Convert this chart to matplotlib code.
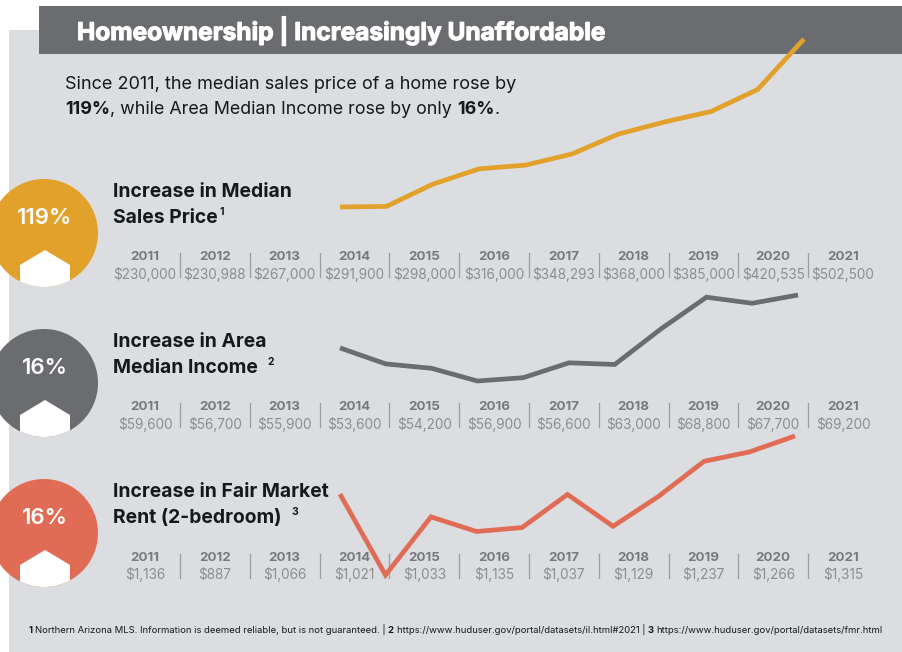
import numpy as np
import matplotlib
matplotlib.use("Agg")
import matplotlib.pyplot as plt
import matplotlib.patheffects as pe
from matplotlib.patches import Circle, Polygon, Rectangle

W, H = 902, 652
FONT = "Inter"

years = [2011, 2012, 2013, 2014, 2015, 2016, 2017, 2018, 2019, 2020, 2021]

price = [230000, 230988, 267000, 291900, 298000, 316000, 348293, 368000, 385000, 420535, 502500]
income = [59600, 56700, 55900, 53600, 54200, 56900, 56600, 63000, 68800, 67700, 69200]
rent = [1136, 887, 1066, 1021, 1033, 1135, 1037, 1129, 1237, 1266, 1315]

GOLD = "#e2a12a"
SLATE = "#6a6c6f"
CORAL = "#e06c55"
PANEL = "#dbdde0"
INK = "#17181a"

plt.rcParams["font.family"] = [FONT, "DejaVu Sans"]
fig = plt.figure(figsize=(W / 100, H / 100), dpi=100, facecolor="white")

# full figure axes in pixels, y going down
bg = fig.add_axes([0, 0, 1, 1])
bg.set_xlim(0, W)
bg.set_ylim(H, 0)
bg.axis("off")

bg.add_patch(Rectangle((9, 30), W - 9, H - 30, fc=PANEL, ec="none"))
bg.add_patch(Rectangle((39, 6), W - 39, 48, fc=SLATE, ec="none"))
title = bg.text(77, 31, "Homeownership | Increasingly Unaffordable", color="white",
                fontsize=17.6, fontweight="bold", va="center")
title.set_path_effects([pe.withStroke(linewidth=0.8, foreground="white")])


def chain(x, y, parts, size, color=INK):
    # text pieces in a row, regular and bold
    t = None
    for s, w in parts:
        if t is None:
            t = bg.text(x, y, s, fontsize=size, fontweight=w, color=color, va="baseline")
        else:
            t = bg.annotate(s, xy=(1, 0), xycoords=t, fontsize=size, fontweight=w,
                            color=color, va="bottom", ha="left")
    return t


bg.text(65, 89, "Since 2011, the median sales price of a home rose by", fontsize=13, color=INK)
chain(65, 114, [("119%", "bold"), (", while Area Median Income rose by only ", "normal"),
                ("16%", "bold"), (".", "normal")], 12.85)


def badge(cy, color, label):
    c = Circle((44, cy), 54, fc=color, ec="none", zorder=3)
    bg.add_patch(c)
    house = Polygon([(20, cy + 32), (45, cy + 17), (70, cy + 32), (70, cy + 60), (20, cy + 60)],
                    fc="white", ec="none", zorder=4)
    bg.add_patch(house)
    house.set_clip_path(c)
    bg.text(45, cy - 15, label, color="white", fontsize=16, fontweight="semibold",
            ha="center", va="center", zorder=5)


def heading(y, line1, line2, note, note_x):
    bg.text(113, y, line1, fontsize=13.9, fontweight="bold", color=INK, va="center")
    bg.text(113, y + 26, line2, fontsize=13.9, fontweight="bold", color=INK, va="center")
    bg.text(note_x, y + 20, note, fontsize=7.5, fontweight="bold", color=INK, va="center")


def table(y, labels):
    # year and value columns with separators between
    for i, (yr, lab) in enumerate(zip(years, labels)):
        x = 145 + i * 69.8
        bg.text(x, y, str(yr), fontsize=9.6, fontweight="bold", color="#77797c",
                ha="center", va="center")
        bg.text(x, y + 17, lab, fontsize=9.8, color="#8b8d90", ha="center", va="center")
        if i < len(years) - 1:
            bg.plot([x + 35, x + 35], [y - 4, y + 20], color="#9a9c9f", lw=0.9)


def line(x0, x1, ytop, ybot, values, color):
    ax = fig.add_axes([x0 / W, 1 - ybot / H, (x1 - x0) / W, (ybot - ytop) / H])
    ax.patch.set_alpha(0)
    ax.axis("off")
    ax.set_xlim(years[0], years[-1])
    ax.set_ylim(min(values), max(values))
    ax.plot(years, values, color=color, lw=3.4, clip_on=False,
            solid_joinstyle="miter", solid_capstyle="butt")


badge(233, GOLD, "119%")
badge(383, SLATE, "16%")
badge(533, CORAL, "16%")

heading(192, "Increase in Median", "Sales Price", "1", 220)
heading(342, "Increase in Area", "Median Income", "2", 268)
heading(492, "Increase in Fair Market", "Rent (2-bedroom)", "3", 291)

table(257, [f"${v:,}" for v in price])
table(407, [f"${v:,}" for v in income])
table(558, [f"${v:,}" for v in rent])

line(340, 804, 39, 207, price, GOLD)
line(340, 798, 295, 381, income, SLATE)
line(340, 795, 436, 575, rent, CORAL)

chain(29, 633, [("1 ", "bold"),
                ("Northern Arizona MLS. Information is deemed reliable, but is not guaranteed. | ", "normal"),
                ("2 ", "bold"),
                ("https://www.huduser.gov/portal/datasets/il.html#2021 | ", "normal"),
                ("3 ", "bold"),
                ("https://www.huduser.gov/portal/datasets/fmr.html", "normal")], 6.8)

fig.savefig("out.png", dpi=100)
